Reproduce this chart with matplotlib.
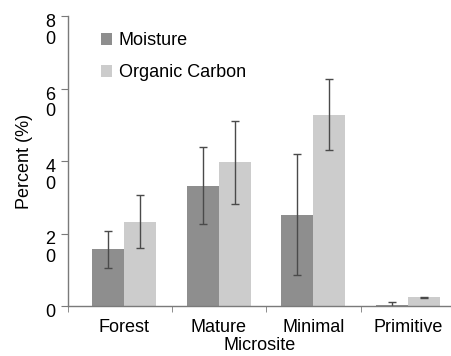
import matplotlib
matplotlib.use("Agg")
import matplotlib.pyplot as plt
import matplotlib.transforms as mtransforms
import numpy as np

categories = ["Forest", "Mature", "Minimal", "Primitive"]
moisture = [15.6, 33.2, 25.2, 0.3]
moisture_err = [5.0, 10.6, 16.6, 0.8]
organic = [23.3, 39.6, 52.8, 2.4]
organic_err = [7.3, 11.5, 9.8, 0.2]
ytick_vals = [0, 20, 40, 60, 80]
ytick_labels = ["0", "2\n0", "4\n0", "6\n0", "8\n0"]

plt.rcParams['font.family'] = ['Liberation Sans', 'DejaVu Sans']

fig = plt.figure(figsize=(4.51, 3.56), dpi=100)
ax = fig.add_axes([68/451, 50/356, (451-68)/451, 290/356])

x = np.arange(len(categories))
w = 0.34
err_kw = dict(ecolor='#4a4a4a', elinewidth=1.0, capsize=3.2, capthick=1.0)
ax.bar(x - w/2, moisture, w, yerr=moisture_err, color='#8e8e8e', label='Moisture',
       error_kw=err_kw, zorder=2)
ax.bar(x + w/2, organic, w, yerr=organic_err, color='#cccccc', label='Organic Carbon',
       error_kw=err_kw, zorder=2)

ax.set_xlim(-0.596, 3.457)
ax.set_ylim(0, 80)

for s in ['top', 'right']:
    ax.spines[s].set_visible(False)
for s in ['left', 'bottom']:
    ax.spines[s].set_color('#7a7a7a')
    ax.spines[s].set_linewidth(1.0)

fs = 13
ax.set_xticks(x)
ax.set_xticklabels(categories, fontsize=fs)
ax.tick_params(axis='x', which='major', length=0, pad=9)
ax.set_xticks([-0.596, 0.5, 1.5, 2.5], minor=True)
ax.tick_params(axis='x', which='minor', length=4, color='#7a7a7a', direction='out')

ax.set_yticks(ytick_vals)
ax.set_yticklabels(ytick_labels, fontsize=fs, linespacing=1.0)
ax.tick_params(axis='y', length=5, color='#7a7a7a', direction='out', pad=4)
offset = mtransforms.ScaledTranslation(0, 2/100, fig.dpi_scale_trans)
for lab in ax.get_yticklabels():
    lab.set_va('top')
    lab.set_transform(lab.get_transform() + offset)

ax.set_ylabel("Percent (%)", fontsize=fs, labelpad=9)
ax.set_xlabel("Microsite", fontsize=fs, labelpad=1)

ax.legend(loc='upper left', bbox_to_anchor=(0.085, 0.945), frameon=False,
          fontsize=fs, handlelength=0.65, handleheight=0.65, handletextpad=0.35,
          labelspacing=0.85, borderpad=0, borderaxespad=0)

fig.savefig("out.png", dpi=100)
